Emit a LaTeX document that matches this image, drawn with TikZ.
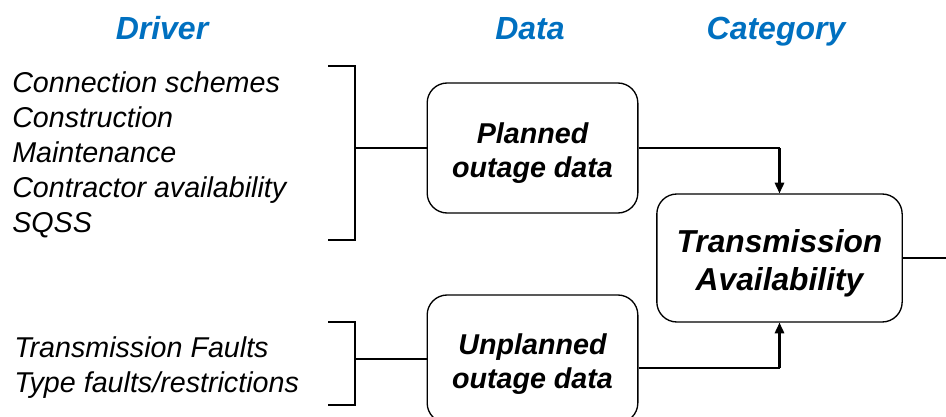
\documentclass[tikz,border=0pt]{standalone}
\usepackage{fontspec}
\setmainfont{Liberation Sans}
\usetikzlibrary{arrows.meta, positioning, calc}
\definecolor{headblue}{RGB}{0,112,192}
\newcommand{\lowstrut}[1]{\rule{0pt}{#1}}

\begin{document}
\begin{tikzpicture}[
        x=0.75pt, y=-0.75pt,
        heading/.style={font=\fontsize{24}{28}\selectfont\bfseries\itshape, text=headblue, inner sep=0pt, anchor=base},
        drivers/.style={font=\fontsize{21.5}{26.25}\selectfont\itshape, align=left, inner sep=0pt, anchor=west},
        databox/.style={rectangle, rounded corners=15pt, draw=black, line width=1pt, minimum width=158pt, align=center, font=\fontsize{21.5}{25.5}\selectfont\bfseries\itshape},
        catbox/.style={rectangle, rounded corners=15pt, draw=black, line width=1pt, minimum width=184pt, minimum height=96pt, align=center, font=\fontsize{23.8}{28.5}\selectfont\bfseries\itshape},
        line/.style={line width=0.9pt},
        arrow/.style={line width=1.6pt, -{Triangle[length=8pt, width=7pt]}},
    ]
        \useasboundingbox (0,0) rectangle (946,417);

        % Column headings
        \node (hdriver) [heading] at (162,40) {Driver};
        \node (hdata) [heading] at (530,40) {Data};
        \node (hcat) [heading] at (776,40) {Category};

        % Drivers
        \node (plandrivers) [drivers] at (12,155) {Connection schemes\\Construction\\Maintenance\\Contractor availability\\SQSS};
        \node (unplandrivers) [drivers] at (14,368) {Transmission Faults\\Type faults/restrictions};

        % Data boxes
        \node (planned) [databox, minimum height=97.5pt] at (532.5,148) {\lowstrut{23pt}Planned\\outage data};
        \node (unplanned) [databox, minimum height=96pt] at (532.5,359) {\lowstrut{23pt}Unplanned\\outage data};

        % Category box
        \node (avail) [catbox] at (779.5,258) {\lowstrut{25pt}Transmission\\Availability};

        % Brackets
        \coordinate (bt1) at (328,66);
        \coordinate (bb1) at (328,240);
        \coordinate (bm1) at (355,148);
        \coordinate (bt2) at (328,322);
        \coordinate (bb2) at (328,405);
        \coordinate (bm2) at (355,359);
        \draw [line] (bt1) -- ++(27,0) |- (bb1);
        \draw [line] (bt2) -- ++(27,0) |- (bb2);

        % Connections
        \draw [line] (bm1) -- (planned.west);
        \draw [line] (bm2) -- (unplanned.west);
        \draw [line] (planned.east) -| (avail.north);
        \draw [arrow] (avail.north) ++(0,-45) -- (avail.north);
        \coordinate (uout) at ($(unplanned.east)+(0,9)$);
        \draw [line] (uout) -| (avail.south);
        \draw [arrow] (avail.south) ++(0,45) -- (avail.south);
        \coordinate (out) at (950,258);
        \draw [line] (avail.east) -- (out);
    \end{tikzpicture}
\end{document}
